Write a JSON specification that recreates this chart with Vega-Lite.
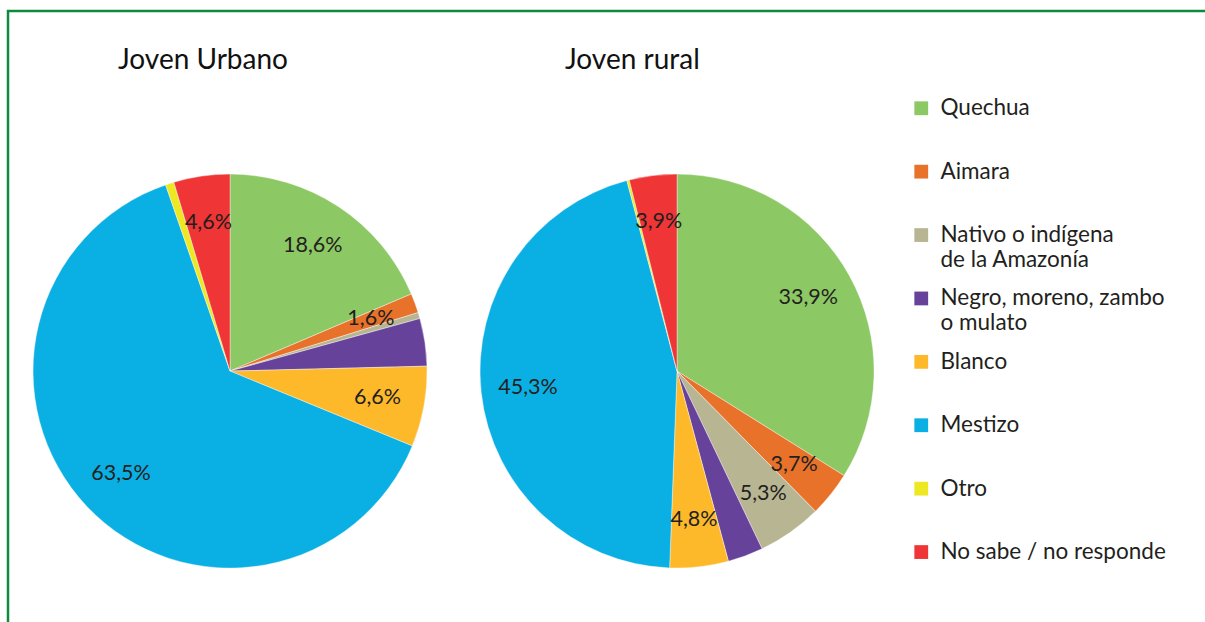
{
  "$schema": "https://vega.github.io/schema/vega-lite/v6.json",
  "width": 1205,
  "height": 622,
  "autosize": {"type": "fit", "contains": "padding"},
  "padding": {"left": 8, "top": 11, "right": -6, "bottom": -6},
  "background": "white",
  "config": {
    "view": {"stroke": "#0c8a3e", "strokeWidth": 2.5},
    "font": "Lato"
  },
  "datasets": {
    "etnias": [
      {"grupo": "Joven Urbano", "orden": 1, "etnia": "Quechua", "porcentaje": 18.6, "etiqueta": "18,6%"},
      {"grupo": "Joven Urbano", "orden": 2, "etnia": "Aimara", "porcentaje": 1.6, "etiqueta": "1,6%"},
      {"grupo": "Joven Urbano", "orden": 3, "etnia": "Nativo o indígena de la Amazonía", "porcentaje": 0.5, "etiqueta": ""},
      {"grupo": "Joven Urbano", "orden": 4, "etnia": "Negro, moreno, zambo o mulato", "porcentaje": 3.9, "etiqueta": ""},
      {"grupo": "Joven Urbano", "orden": 5, "etnia": "Blanco", "porcentaje": 6.6, "etiqueta": "6,6%"},
      {"grupo": "Joven Urbano", "orden": 6, "etnia": "Mestizo", "porcentaje": 63.5, "etiqueta": "63,5%"},
      {"grupo": "Joven Urbano", "orden": 7, "etnia": "Otro", "porcentaje": 0.7, "etiqueta": ""},
      {"grupo": "Joven Urbano", "orden": 8, "etnia": "No sabe / no responde", "porcentaje": 4.6, "etiqueta": "4,6%"},
      {"grupo": "Joven rural", "orden": 1, "etnia": "Quechua", "porcentaje": 33.9, "etiqueta": "33,9%"},
      {"grupo": "Joven rural", "orden": 2, "etnia": "Aimara", "porcentaje": 3.7, "etiqueta": "3,7%"},
      {"grupo": "Joven rural", "orden": 3, "etnia": "Nativo o indígena de la Amazonía", "porcentaje": 5.3, "etiqueta": "5,3%"},
      {"grupo": "Joven rural", "orden": 4, "etnia": "Negro, moreno, zambo o mulato", "porcentaje": 2.9, "etiqueta": ""},
      {"grupo": "Joven rural", "orden": 5, "etnia": "Blanco", "porcentaje": 4.8, "etiqueta": "4,8%"},
      {"grupo": "Joven rural", "orden": 6, "etnia": "Mestizo", "porcentaje": 45.3, "etiqueta": "45,3%"},
      {"grupo": "Joven rural", "orden": 7, "etnia": "Otro", "porcentaje": 0.2, "etiqueta": ""},
      {"grupo": "Joven rural", "orden": 8, "etnia": "No sabe / no responde", "porcentaje": 3.9, "etiqueta": "3,9%"}
    ],
    "titulos": [
      {"grupo": "Joven Urbano"},
      {"grupo": "Joven rural"}
    ]
  },
  "layer": [
    {
      "data": {"name": "etnias"},
      "transform": [
        {"stack": "porcentaje", "groupby": ["grupo"], "sort": [{"field": "orden", "order": "ascending"}], "as": ["t0", "t1"]}
      ],
      "mark": {"type": "arc", "outerRadius": 197, "stroke": "white", "strokeWidth": 0.4},
      "encoding": {
        "x": {"field": "grupo", "type": "nominal", "scale": {"type": "point", "domain": ["Joven Urbano", "Joven rural"], "padding": 0.8456, "align": 0.2937}, "axis": null},
        "y": {"datum": "torta", "type": "nominal", "scale": {"type": "point", "domain": ["titulo", "torta"], "padding": 0.495, "align": 0.163}, "axis": null},
        "theta": {"field": "t0", "type": "quantitative", "scale": {"domain": [0, 100]}},
        "theta2": {"field": "t1"},
        "color": {
          "field": "etnia",
          "type": "nominal",
          "scale": {
            "domain": ["Quechua", "Aimara", "Nativo o indígena de la Amazonía", "Negro, moreno, zambo o mulato", "Blanco", "Mestizo", "Otro", "No sabe / no responde"],
            "range": ["#8cc864", "#e8722a", "#b8b592", "#66429b", "#fdb92a", "#0aafe4", "#eee823", "#ef3535"]
          },
          "legend": {
            "orient": "none",
            "legendX": 902,
            "legendY": 86,
            "title": null,
            "padding": 0,
            "symbolType": "square",
            "symbolSize": 190,
            "symbolStrokeWidth": 0,
            "symbolOpacity": 1,
            "labelFont": "Lato",
            "labelFontSize": 22.5,
            "labelColor": "#231f20",
            "labelOffset": 8,
            "labelLimit": 0,
            "gridAlign": "all",
            "rowPadding": 15.4,
            "labelExpr": "datum.label == 'Nativo o indígena de la Amazonía' ? ['Nativo o indígena', 'de la Amazonía'] : datum.label == 'Negro, moreno, zambo o mulato' ? ['Negro, moreno, zambo', 'o mulato'] : datum.label",
            "encoding": {"labels": {"update": {"lineHeight": {"value": 26}}}}
          }
        }
      }
    },
    {
      "data": {"name": "etnias"},
      "transform": [
        {"stack": "porcentaje", "groupby": ["grupo"], "sort": [{"field": "orden", "order": "ascending"}], "as": ["t0", "t1"]},
        {"calculate": "(datum.t0 + datum.t1) / 2", "as": "medio"},
        {"filter": "datum.etiqueta != ''"}
      ],
      "mark": {"type": "text", "radius": 150, "fontSize": 21.5, "color": "#231f20", "font": "Lato"},
      "encoding": {
        "x": {"field": "grupo", "type": "nominal"},
        "y": {"datum": "torta", "type": "nominal"},
        "theta": {"field": "medio", "type": "quantitative"},
        "text": {"field": "etiqueta"}
      }
    },
    {
      "data": {"name": "titulos"},
      "mark": {"type": "text", "fontSize": 28, "color": "#111111", "font": "Lato", "align": "left", "dx": -112},
      "encoding": {
        "x": {"field": "grupo", "type": "nominal"},
        "y": {"datum": "titulo", "type": "nominal"},
        "text": {"field": "grupo"}
      }
    }
  ]
}
